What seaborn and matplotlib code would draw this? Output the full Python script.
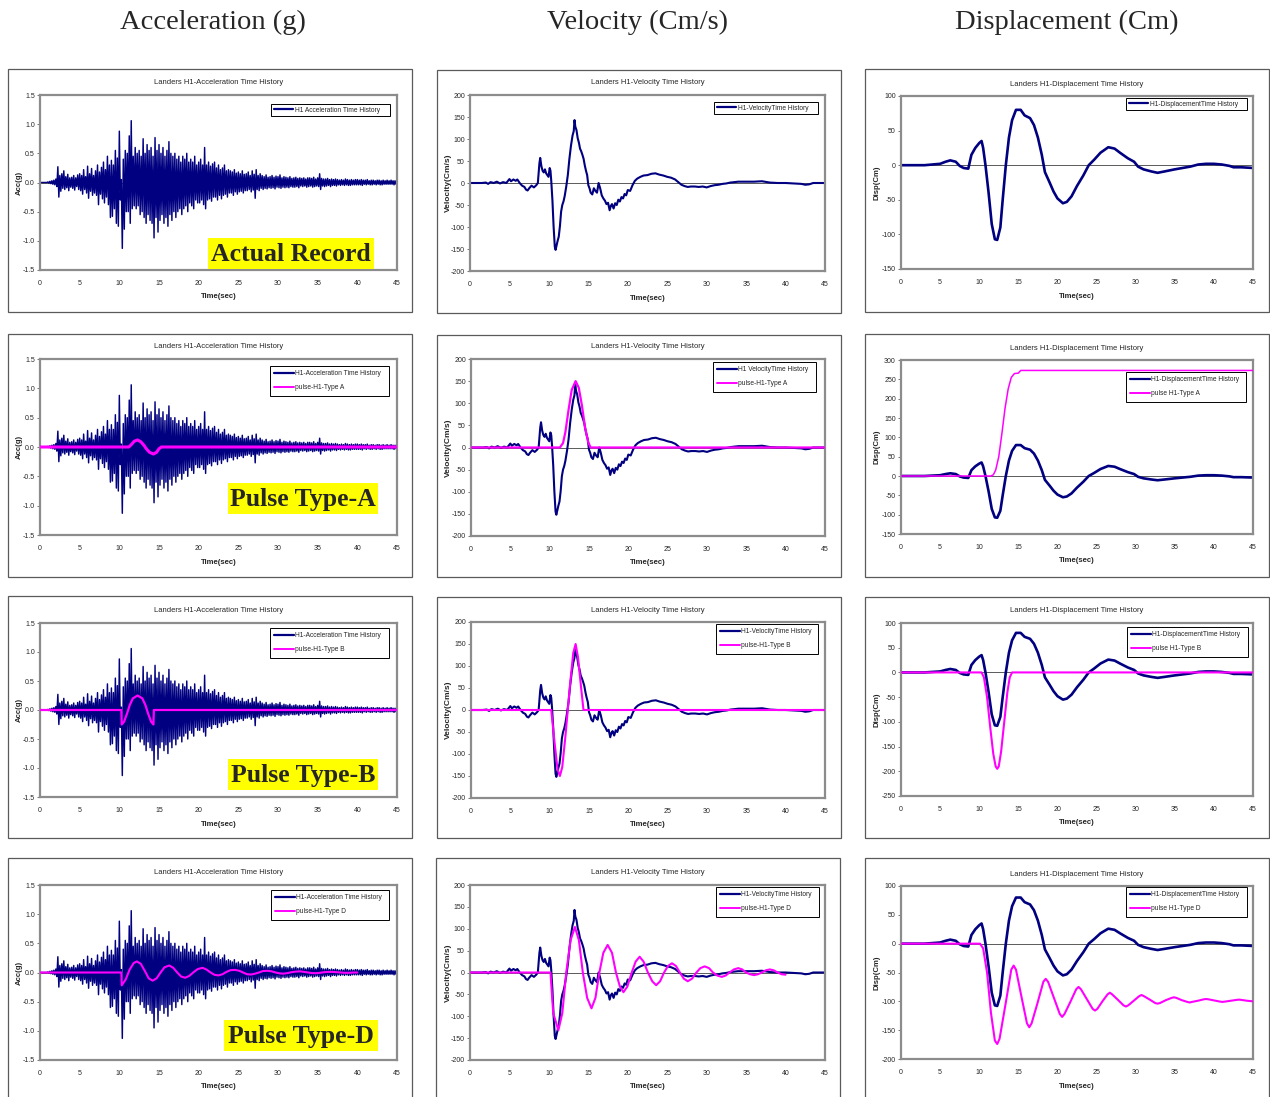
import numpy as np
import pandas as pd
import matplotlib
matplotlib.use("Agg")
import matplotlib.pyplot as plt
import seaborn as sns
from matplotlib.patches import Rectangle
from matplotlib.lines import Line2D
from matplotlib.ticker import FormatStrFormatter

# ---------------- DATA ----------------
# Recorded acceleration (g): upper / lower peaks, 4 per second
acc_upper = [
    0.00, 0.00, 0.00, 0.00,  0.01, 0.02, 0.03, 0.04,  0.06, 0.27, 0.12, 0.15,
    0.20, 0.10, 0.14, 0.08,  0.09, 0.12, 0.08, 0.13,  0.15, 0.12, 0.22, 0.10,
    0.28, 0.15, 0.24, 0.12,  0.20, 0.30, 0.18, 0.26,  0.35, 0.22, 0.45, 0.30,
    0.38, 0.30, 0.55, 0.42,  0.88, 0.05, 0.40, 0.55,  0.50, 0.80, 1.06, 0.45,
    0.60, 0.50, 0.55, 0.45,  0.75, 0.50, 0.65, 0.55,  0.60, 0.45, 0.77, 0.55,
    0.65, 0.50, 0.60, 0.45,  0.55, 0.70, 0.50, 0.45,  0.50, 0.40, 0.45, 0.35,
    0.45, 0.40, 0.50, 0.35,  0.40, 0.35, 0.45, 0.30,  0.35, 0.40, 0.30, 0.60,
    0.30, 0.35, 0.28, 0.32,  0.35, 0.25, 0.30, 0.22,  0.25, 0.30, 0.20, 0.22,
    0.20, 0.18, 0.22, 0.16,  0.18, 0.15, 0.20, 0.14,  0.15, 0.18, 0.12, 0.20,
    0.14, 0.22, 0.12, 0.15,  0.12, 0.10, 0.13, 0.09,  0.10, 0.12, 0.09, 0.11,
    0.10, 0.13, 0.08, 0.10,  0.09, 0.08, 0.10, 0.07,  0.08, 0.09, 0.07, 0.08,
    0.07, 0.08, 0.06, 0.08,  0.08, 0.07, 0.09, 0.06,  0.08, 0.15, 0.07, 0.06,
    0.06, 0.07, 0.05, 0.06,  0.05, 0.06, 0.05, 0.04,  0.05, 0.04, 0.06, 0.05,
    0.04, 0.05, 0.04, 0.05,  0.05, 0.04, 0.05, 0.04,  0.04, 0.05, 0.03, 0.04,
    0.04, 0.03, 0.04, 0.04,  0.03, 0.04, 0.03, 0.04,  0.03, 0.04, 0.03, 0.03,
    0.03]
acc_lower = [
    0.00, 0.00, 0.00, 0.00,  -0.01, -0.02, -0.03, -0.04,  -0.07, -0.25, -0.15, -0.10,
    -0.12, -0.09, -0.14, -0.08,  -0.10, -0.13, -0.07, -0.12,  -0.14, -0.20, -0.12, -0.18,
    -0.27, -0.15, -0.22, -0.18,  -0.22, -0.38, -0.20, -0.28,  -0.35, -0.25, -0.38, -0.60,
    -0.58, -0.45, -0.70, -0.75,  -0.30, -1.13, -0.80, -0.50,  -0.50, -0.70, -0.45, -0.40,
    -0.45, -0.40, -0.55, -0.50,  -0.60, -0.70, -0.55, -0.65,  -0.70, -0.95, -0.60, -0.85,
    -0.65, -0.55, -0.70, -0.60,  -0.75, -0.55, -0.65, -0.50,  -0.60, -0.50, -0.45, -0.55,
    -0.45, -0.40, -0.50, -0.35,  -0.40, -0.45, -0.30, -0.35,  -0.35, -0.30, -0.38, -0.45,
    -0.30, -0.28, -0.32, -0.25,  -0.25, -0.30, -0.22, -0.28,  -0.22, -0.20, -0.25, -0.18,
    -0.18, -0.22, -0.16, -0.20,  -0.16, -0.15, -0.18, -0.14,  -0.14, -0.12, -0.16, -0.13,
    -0.27, -0.12, -0.14, -0.10,  -0.12, -0.10, -0.11, -0.09,  -0.10, -0.09, -0.11, -0.08,
    -0.09, -0.10, -0.08, -0.09,  -0.08, -0.09, -0.07, -0.08,  -0.08, -0.07, -0.09, -0.06,
    -0.07, -0.06, -0.08, -0.07,  -0.06, -0.08, -0.07, -0.06,  -0.07, -0.12, -0.06, -0.07,
    -0.06, -0.05, -0.07, -0.05,  -0.05, -0.06, -0.04, -0.05,  -0.04, -0.05, -0.04, -0.05,
    -0.05, -0.04, -0.04, -0.04,  -0.04, -0.04, -0.05, -0.03,  -0.04, -0.03, -0.04, -0.04,
    -0.03, -0.04, -0.03, -0.04,  -0.04, -0.03, -0.03, -0.03,  -0.03, -0.03, -0.04, -0.03]

# Recorded velocity (cm/s)
vel_t = [0, 1.5, 2.0, 2.3, 2.6, 3.0, 3.4, 3.8, 4.2, 4.6, 5.0, 5.2, 5.5, 5.8, 6.0, 6.3,
         6.6, 6.9, 7.1, 7.3, 7.5, 7.8, 8.1, 8.4, 8.6, 8.8, 8.9, 9.05, 9.2, 9.35, 9.5,
         9.65, 9.8, 9.95, 10.1, 10.2, 10.3, 10.45, 10.6, 10.75, 10.85, 11.0, 11.1, 11.25,
         11.4, 11.55, 11.7, 11.85, 12.0, 12.2, 12.4, 12.6, 12.8, 13.0, 13.15, 13.25, 13.35,
         13.5, 13.65, 13.8, 13.95, 14.1, 14.25, 14.4, 14.55, 14.7, 14.85, 15.0, 15.15, 15.3,
         15.5, 15.7, 15.9, 16.1, 16.3, 16.5, 16.7, 16.9, 17.1, 17.3, 17.5, 17.7, 17.85, 18.0,
         18.2, 18.4, 18.6, 18.8, 19.0, 19.2, 19.4, 19.6, 19.8, 20.0, 20.3, 20.6, 20.9, 21.2,
         21.6, 22.0, 22.5, 23.0, 23.5, 24.0, 24.5, 25.0, 25.5, 26.0, 26.4, 26.8, 27.2, 27.6,
         28.0, 28.5, 29.0, 29.5, 30.0, 30.5, 31.0, 31.5, 32.0, 32.5, 33.0, 33.5, 34.0, 35.0,
         36.0, 37.0, 38.0, 39.0, 40.0, 41.0, 42.0, 42.5, 43.0, 43.5, 44.0, 45.0]
vel_v = [0, 0, 1, -2, 2, 0, 3, -1, 2, 0, 9, 4, 8, 5, 8, 0,
         -6, -9, -15, -17, -12, -6, -10, -5, 0, 45, 57, 38, 28, 24, 31,
         22, 18, 14, 34, 28, 5, -40, -100, -145, -152, -140, -132, -122,
         -98, -65, -50, -42, -30, -8, 18, 55, 85, 108, 118, 143, 128,
         120, 102, 92, 78, 72, 64, 55, 40, 28, 18, -5, -12, -22,
         -26, -12, -18, -22, 0, -12, -28, -35, -40, -48, -45, -62, -52, -48,
         -58, -46, -50, -38, -42, -32, -35, -25, -28, -16, -18, -5, 5, 10,
         14, 17, 18, 21, 22, 19, 17, 14, 12, 8, 2, -4, -7, -9,
         -8, -8, -9, -8, -10, -7, -5, -4, -2, -1, 1, 2, 3, 3,
         3, 4, 1, 0, 0, -1, -2, -4, -3, 0, 0, 0]

# Recorded displacement (cm)
disp_t = [0, 3.0, 5.0, 5.7, 6.3, 7.0, 7.5, 8.0, 8.6, 9.0, 9.5, 10.0, 10.3, 10.5, 10.8,
          11.2, 11.6, 12.0, 12.3, 12.7, 13.0, 13.4, 13.8, 14.2, 14.7, 15.3, 15.8, 16.5,
          17.0, 17.5, 18.0, 18.4, 19.0, 19.5, 20.0, 20.7, 21.2, 21.8, 22.5, 23.3, 24.0,
          24.7, 25.5, 26.5, 27.3, 28.0, 29.0, 29.8, 30.3, 31.0, 32.0, 32.8, 33.7, 35.0,
          36.0, 37.0, 38.0, 39.0, 40.0, 41.0, 42.0, 42.5, 43.5, 45.0]
disp_v = [0, 0, 2, 5, 7, 5, -1, -4, -5, 15, 25, 32, 35, 25, 0,
          -40, -85, -107, -108, -90, -50, 0, 40, 65, 80, 80, 72, 68,
          58, 40, 15, -10, -25, -38, -48, -55, -53, -45, -30, -15, 0,
          8, 18, 26, 24, 18, 10, 5, -2, -6, -9, -11, -9, -6,
          -4, -2, 1, 2, 2, 1, -1, -3, -3, -4]

# Pulse Type A
pA_acc_t = [0, 11.2, 11.5, 11.9, 12.3, 12.7, 13.1, 13.4, 13.8, 14.3, 14.7, 15.0, 15.3, 45]
pA_acc_v = [0, 0, 0.04, 0.10, 0.12, 0.09, 0.03, -0.03, -0.09, -0.12, -0.09, -0.03, 0, 0]
pA_vel_t = [0, 11.3, 11.7, 12.0, 12.4, 12.8, 13.3, 13.7, 14.1, 14.5, 14.9, 15.2, 45]
pA_vel_v = [0, 0, 10, 35, 85, 130, 150, 135, 95, 45, 12, 0, 0]
pA_disp_t = [0, 11.5, 11.8, 12.1, 12.5, 12.9, 13.3, 13.7, 14.1, 14.5, 15.0, 15.3, 45]
pA_disp_v = [0, 0, 3, 15, 50, 110, 175, 225, 255, 265, 266, 273, 273]

# Pulse Type B
pB_acc_t = [0, 10.25, 10.3, 10.6, 11.0, 11.3, 11.7, 12.3, 12.9, 13.3, 13.6, 14.0, 14.3, 14.35, 45]
pB_acc_v = [0, 0, -0.25, -0.20, -0.05, 0.08, 0.20, 0.25, 0.20, 0.08, -0.05, -0.20, -0.25, 0, 0]
pB_vel_t = [0, 10.2, 10.6, 11.0, 11.3, 11.6, 12.0, 12.3, 12.6, 13.0, 13.3, 13.6, 14.0, 14.3, 45]
pB_vel_v = [0, 0, -70, -135, -150, -130, -60, 0, 60, 130, 150, 120, 50, 0, 0]
pB_disp_t = [0, 10.3, 10.6, 11.0, 11.4, 11.8, 12.1, 12.3, 12.5, 12.8, 13.2, 13.6, 13.9, 14.2, 45]
pB_disp_v = [0, 0, -10, -50, -110, -165, -190, -195, -190, -160, -100, -40, -10, 0, 0]

# Pulse Type D
pD_acc_t = [0, 10.25, 10.3, 10.8, 11.3, 11.8, 12.2, 12.7, 13.2, 13.7, 14.2, 14.7, 15.2, 15.7,
            16.3, 16.8, 17.3, 17.8, 18.3, 18.8, 19.4, 19.9, 20.5, 21.0, 21.5, 22.0, 22.5,
            23.0, 23.5, 24.0, 24.6, 25.1, 25.6, 26.1, 26.6, 27.1, 27.6, 28.1, 28.7, 29.2,
            29.7, 30.2, 30.7, 31.2, 31.7, 32.2, 32.8, 33.3, 33.8, 34.3, 34.8, 35.3, 35.8,
            36.3, 36.9, 37.4, 37.9, 38.4, 39.0, 39.5, 40.0]
pD_acc_v = [0, 0, -0.22, -0.12, 0.05, 0.16, 0.19, 0.15, 0.03, -0.10, -0.14, -0.10, 0.0, 0.09,
            0.12, 0.08, 0.0, -0.07, -0.09, -0.06, 0.01, 0.06, 0.08, 0.05, 0.0, -0.04, -0.05,
            -0.03, 0.01, 0.04, 0.045, 0.03, 0.0, -0.03, -0.035, -0.02, 0.0, 0.025, 0.03, 0.02,
            0.0, -0.015, -0.02, -0.01, 0.005, 0.015, 0.02, 0.01, 0.0, -0.01, -0.012, -0.005, 0.005,
            0.01, 0.01, 0.005, 0.0, -0.005, -0.005, 0.0, 0.0]
pD_vel_t = [0, 10.2, 10.55, 11.2, 11.7, 12.2, 12.75, 13.3, 13.8, 14.3, 14.85, 15.4, 15.9, 16.4,
            16.9, 17.45, 18.0, 18.5, 19.0, 19.45, 19.95, 20.5, 21.0, 21.5, 22.0, 22.55, 23.1,
            23.6, 24.1, 24.6, 25.1, 25.6, 26.1, 26.6, 27.1, 27.6, 28.15, 28.7, 29.2, 29.75,
            30.3, 30.8, 31.35, 31.9, 32.4, 32.9, 33.45, 34.0, 34.5, 35.0, 35.5, 36.0, 36.5,
            37.0, 37.5, 38.0, 38.5, 39.0, 39.5, 40.0]
pD_vel_v = [0, 0, -93, -132, -93, 0, 74, 104, 74, 0, -58, -82, -58, 0,
            45, 63, 45, 0, -32, -45, -32, 0, 25, 36, 25, 0, -20,
            -29, -20, 0, 15, 21, 15, 0, -14, -20, -14, 0, 10, 14,
            10, 0, -7, -10, -7, 0, 7, 10, 7, 0, -4, -6, -4,
            0, 5, 7, 5, 0, -4, -5]
pD_disp_t = [0, 10.1, 10.5, 11.0, 11.5, 12.0, 12.3, 12.6, 13.35, 14.1, 14.4, 14.7, 15.4, 16.1,
             16.4, 16.7, 17.45, 18.2, 18.5, 18.8, 19.55, 20.3, 20.6, 20.9, 21.65, 22.4, 22.7,
             23.0, 23.75, 24.5, 24.8, 25.1, 25.75, 26.4, 26.7, 27.0, 27.7, 28.45, 28.75, 29.05,
             29.75, 30.45, 30.75, 31.05, 31.8, 32.5, 32.8, 33.1, 33.85, 34.6, 34.9, 35.2, 35.9,
             36.6, 36.9, 37.2, 37.95, 38.7, 39.0, 39.3, 40.05, 40.8, 41.1, 41.4, 42.15, 42.9,
             43.2, 43.5, 44.25, 45.0]
pD_disp_v = [0, 0, -8, -50, -120, -168, -174, -165, -106, -45, -38, -45, -92, -138,
             -145, -138, -103, -66, -61, -66, -94, -122, -127, -122, -101, -79, -75,
             -79, -96, -113, -116, -113, -100, -88, -85, -88, -97, -107, -109, -107,
             -99, -91, -89, -91, -97, -103, -104, -103, -98, -94, -93, -94, -98,
             -101, -102, -101, -99, -96.5, -96, -96.5, -98.5, -100.5, -101, -100.5, -99, -97.5,
             -97, -97.5, -99, -100]

col_titles = ["Acceleration (g)", "Velocity (Cm/s)", "Displacement (Cm)"]
panel_titles = ["Landers H1-Acceleration Time History",
                "Landers H1-Velocity Time History",
                "Landers H1-Displacement Time History"]
tags = ["Actual Record", "Pulse Type-A", "Pulse Type-B", "Pulse Type-D"]
x_ticks = [0, 5, 10, 15, 20, 25, 30, 35, 40, 45]

# ---------------- STYLE / LAYOUT ----------------
sns.set_style("white")
plt.rcParams['font.family'] = ['Liberation Sans', 'DejaVu Sans']
plt.rcParams['axes.unicode_minus'] = False

W, H = 1270, 1097
fig = plt.figure(figsize=(W / 100, H / 100), dpi=100)
NAVY = "#000080"
MAG = "#FF00FF"


def fx(x):
    return x / W


def fy(y):
    return 1 - y / H


def series_df(t, v):
    return pd.DataFrame({"t": np.asarray(t, float), "v": np.asarray(v, float)})


k_up = np.arange(len(acc_upper)) * 0.25
k_dn = np.arange(len(acc_lower)) * 0.25 + 0.125
acc_df = pd.concat([series_df(k_up, acc_upper), series_df(k_dn, acc_lower)]).sort_values("t")
vel_df = series_df(vel_t, vel_v)
disp_df = series_df(disp_t, disp_v)

pulses = [None,
          (series_df(pA_acc_t, pA_acc_v), series_df(pA_vel_t, pA_vel_v), series_df(pA_disp_t, pA_disp_v), "A"),
          (series_df(pB_acc_t, pB_acc_v), series_df(pB_vel_t, pB_vel_v), series_df(pB_disp_t, pB_disp_v), "B"),
          (series_df(pD_acc_t, pD_acc_v), series_df(pD_vel_t, pD_vel_v), series_df(pD_disp_t, pD_disp_v), "D")]

frames = [
    [(8, 69, 412, 312), (437, 70, 841, 313), (865, 69, 1269, 312)],
    [(8, 334, 412, 577), (437, 335, 841, 577), (865, 334, 1269, 577)],
    [(8, 596, 412, 838), (437, 597, 841, 838), (865, 597, 1269, 838)],
    [(8, 858, 412, 1100), (436, 858, 840, 1100), (865, 858, 1269, 1100)],
]
axboxes = [
    [(40, 95, 397, 270), (470, 95, 825, 271), (901, 96, 1253, 269)],
    [(40, 359, 397, 535), (471, 359, 825, 536), (901, 360, 1253, 534)],
    [(40, 623, 397, 797), (471, 622, 825, 798), (901, 623, 1253, 796)],
    [(40, 885, 397, 1060), (470, 885, 825, 1060), (901, 886, 1253, 1059)],
]
legboxes = [
    [(271, 104, 390, 117), (714, 102, 818, 116), (1126, 98, 1247, 113)],
    [(270, 366, 389, 396), (713, 362, 816, 390), (1126, 372, 1246, 402)],
    [(270, 628, 389, 658), (716, 624, 818, 653), (1127, 627, 1248, 657)],
    [(271, 890, 389, 918), (716, 887, 819, 918), (1126, 887, 1247, 918)],
]
tagboxes = [(208, 238, 374, 269), (228, 483, 378, 514), (228, 759, 378, 790), (224, 1020, 378, 1051)]

ylims = {0: (-1.5, 1.5, 0.5, "%.1f"), 1: (-200, 200, 50, "%d")}
disp_lims = [(-150, 100), (-150, 300), (-250, 100), (-200, 100)]
ylabels = ["Acc(g)", "Velocity(Cm/s)", "Disp(Cm)"]
ylab_x = [19, 448, 877]

main_labels = [["H1 Acceleration Time History", "H1-Acceleration Time History",
                "H1-Acceleration Time History", "H1-Acceleration Time History"],
               ["H1-VelocityTime History", "H1 VelocityTime History",
                "H1-VelocityTime History", "H1-VelocityTime History"],
               ["H1-DisplacementTime History"] * 4]
pulse_fmt = ["pulse-H1-Type {}", "pulse-H1-Type {}", "pulse H1-Type {}"]
main_lw = [1.05, 1.5, 1.9]
pulse_lw = {"A": [2.2, 1.6, 1.1], "B": [1.6, 1.5, 1.5], "D": [1.5, 1.5, 1.5]}

for c, title in enumerate(col_titles):
    cx = (frames[0][c][0] + frames[0][c][2]) / 2
    fig.text(fx(cx + [3, -1, 0][c]), fy(22), title, ha="center", va="center",
             fontsize=20.5, family=["Liberation Serif", "DejaVu Serif"])

for r in range(4):
    for c in range(3):
        l, t, rr, b = frames[r][c]
        fig.add_artist(Rectangle((fx(l), fy(b)), (rr - l) / W, (b - t) / H,
                                 transform=fig.transFigure, fill=False,
                                 edgecolor="#5a5a5a", lw=0.9))
        al, at, ar, ab = axboxes[r][c]
        ax = fig.add_axes([fx(al), fy(ab), (ar - al) / W, (ab - at) / H])
        data = [acc_df, vel_df, disp_df][c]
        ax.axhline(0, color="#404040", lw=0.6, zorder=1)
        sns.lineplot(data=data, x="t", y="v", ax=ax, color=NAVY, lw=main_lw[c],
                     estimator=None, sort=False, legend=False, zorder=2)
        handles = [Line2D([], [], color=NAVY, lw=1.6)]
        labels = [main_labels[c][r]]
        if pulses[r] is not None:
            pdat = pulses[r][c]
            kind = pulses[r][3]
            sns.lineplot(data=pdat, x="t", y="v", ax=ax, color=MAG,
                         lw=pulse_lw[kind][c], estimator=None, sort=False,
                         legend=False, zorder=3)
            handles.append(Line2D([], [], color=MAG, lw=1.4))
            labels.append(pulse_fmt[c].format(kind))
        ax.set_xlim(0, 45)
        if c < 2:
            lo, hi, st, fmt = ylims[c]
        else:
            lo, hi = disp_lims[r]
            st, fmt = 50, "%d"
        ax.set_ylim(lo, hi)
        ax.set_yticks(np.arange(lo, hi + st / 2, st))
        ax.set_xticks(x_ticks)
        ax.yaxis.set_major_formatter(FormatStrFormatter(fmt))
        ax.tick_params(axis="y", length=2.2, width=0.6, color="#606060", pad=1.5,
                       labelsize=5, direction="out", left=True)
        ax.tick_params(axis="x", length=0, pad=7, labelsize=5, bottom=True)
        for s in ax.spines.values():
            s.set_color("#8c8c8c")
            s.set_linewidth(1.6)
        ax.set_xlabel("")
        ax.set_ylabel("")
        # title, x label, y label
        fig.text(fx((al + ar) / 2), fy(at - 12), panel_titles[c], ha="center",
                 va="center", fontsize=5.5)
        fig.text(fx((al + ar) / 2), fy(ab + 27), "Time(sec)", ha="center",
                 va="center", fontsize=5.6, fontweight="bold")
        fig.text(fx(ylab_x[c]), fy((at + ab) / 2), ylabels[c], ha="center",
                 va="center", rotation=90, fontsize=[5.6, 6.0, 5.6][c],
                 fontweight="bold")
        # legend
        ll, lt, lr, lb = legboxes[r][c]
        two = len(handles) == 2
        leg = ax.legend(handles, labels, loc="upper left",
                        bbox_to_anchor=(fx(ll), fy(lb), (lr - ll) / W, (lb - lt) / H),
                        bbox_transform=fig.transFigure, mode="expand",
                        frameon=True, fancybox=False, fontsize=4.75,
                        handlelength=3.0, handletextpad=0.2,
                        borderpad=0.65 if two else 0.38,
                        labelspacing=1.05, borderaxespad=0)
        leg.get_frame().set_edgecolor("black")
        leg.get_frame().set_linewidth(0.7)
        leg.get_frame().set_alpha(1)
    # tag label
    tl, tt, tr, tb = tagboxes[r]
    fig.add_artist(Rectangle((fx(tl), fy(tb)), (tr - tl) / W, (tb - tt) / H,
                             transform=fig.transFigure, facecolor="#FFFF00",
                             edgecolor="none", zorder=5))
    fig.text(fx((tl + tr) / 2), fy((tt + tb) / 2 + 1), tags[r], ha="center", va="center",
             fontsize=18.5, fontweight="bold", family=["Liberation Serif", "DejaVu Serif"],
             zorder=6)

fig.savefig("out.png", dpi=100)
